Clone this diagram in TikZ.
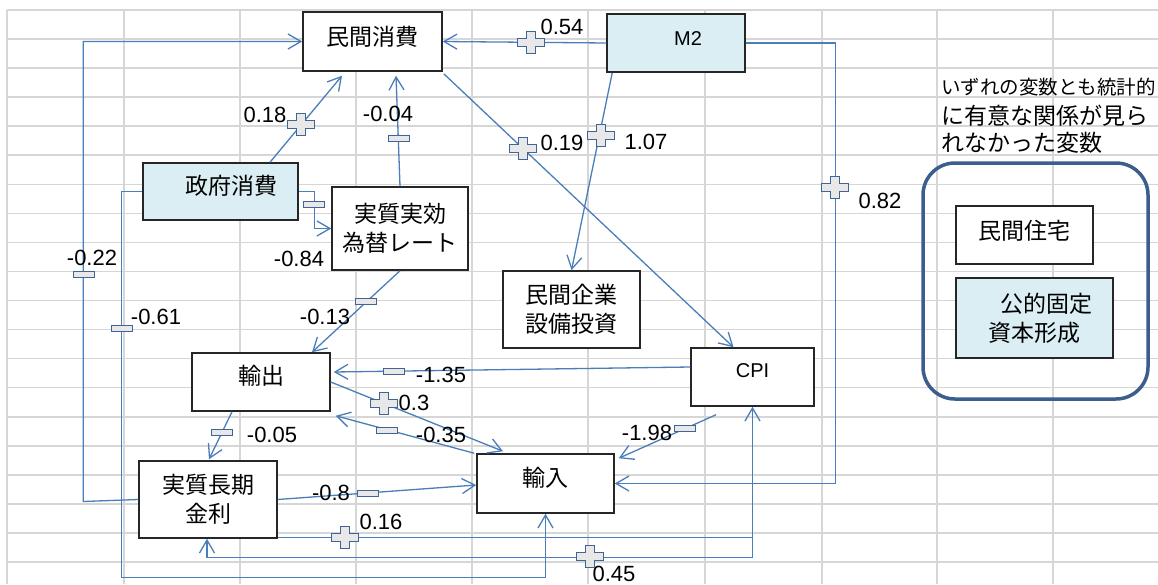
\documentclass[tikz,border=0pt]{standalone}
\usepackage{fontspec}
\setmainfont{Liberation Sans}
\newfontfamily\jp{Noto Sans CJK JP}
\usetikzlibrary{arrows.meta,calc}
\definecolor{linkc}{RGB}{74,126,187}
\definecolor{gridc}{RGB}{214,214,214}
\definecolor{lblue}{RGB}{218,238,243}
\definecolor{mkst}{RGB}{65,100,150}
\definecolor{mkfill}{RGB}{232,232,232}
\definecolor{rboxc}{RGB}{59,94,140}
\begin{document}
\begin{tikzpicture}[x=1pt,y=-1pt,
  jt/.style={font=\jp\fontsize{23}{29}\selectfont},
  lt/.style={font=\fontsize{20}{24}\selectfont},
  box/.style={draw=black!85, line width=1.5pt, fill=white, inner sep=0pt, align=center, jt},
  bbox/.style={box, fill=lblue},
  tl/.style={label={[jt,yshift=5pt]center:#1}},
  link/.style={draw=linkc, line width=1.3pt, -{Straight Barb[length=13pt,width=15pt]}},
  lab/.style={font=\fontsize{22}{26}\selectfont, inner sep=0pt},
  plusm/.pic={\draw[draw=mkst, fill=mkfill, line width=1pt]
     (-4.5,-11) -- (4.5,-11) -- (4.5,-4) -- (13.5,-4) -- (13.5,4) -- (4.5,4) -- (4.5,11)
     -- (-4.5,11) -- (-4.5,4) -- (-13.5,4) -- (-13.5,-4) -- (-4.5,-4) -- cycle;},
  minusm/.pic={\draw[draw=mkst, fill=mkfill, line width=1pt] (-10.5,-3) rectangle (10.5,3);}
]
\useasboundingbox (0,0) rectangle (1158,584);
\fill[white] (0,0) rectangle (1158,584);
% spreadsheet grid
\foreach \x in {7,124,240,356,472,588,705,822,937,1053}
  \draw[gridc, line width=1.6pt] (\x,10) -- (\x,584);
\foreach \i in {0,...,19}
  \draw[gridc, line width=1.6pt] (7,{10+29.05*\i}) -- (1158,{10+29.05*\i});

% boxes
\node[box, minimum width=139pt, minimum height=59pt, tl=民間消費] (mc) at (372.5,41.5) {};
\node[bbox, minimum width=138pt, minimum height=58pt,
      label={[lt,yshift=4pt,xshift=12pt]center:M2}] (m2) at (676,43) {};
\node[bbox, minimum width=155pt, minimum height=57pt,
      label={[jt,yshift=5.5pt,xshift=10.5pt]center:政府消費}] (gc) at (220.5,191.5) {};
\node[box, minimum width=136pt, minimum height=83pt] (reer) at (400,228.5) {実質実効\\為替レート};
\node[box, minimum width=137pt, minimum height=77pt] (inv) at (571.5,309.5) {民間企業\\設備投資};
\node[box, minimum width=123pt, minimum height=58pt,
      label={[lt,yshift=6pt]center:CPI}] (cpi) at (752.5,377) {};
\node[box, minimum width=138pt, minimum height=58pt,
      label={[jt,yshift=6pt]center:輸出}] (ex) at (261,382) {};
\node[box, minimum width=138pt, minimum height=77pt] (rate) at (208,499.5) {実質長期\\金利};
\node[box, minimum width=137pt, minimum height=59pt,
      label={[jt,yshift=6pt]center:輸入}] (im) at (545.5,483.5) {};

% group of unrelated variables
\node[draw=rboxc, line width=3.5pt, rounded corners=32pt, minimum width=225pt,
      minimum height=236pt] (grp) at (1035.5,281) {};
\node[box, minimum width=137pt, minimum height=58pt,
      label={[jt,yshift=4pt]center:民間住宅}] (house) at (1024.5,235) {};
\node[bbox, minimum width=157pt, minimum height=80pt] (pub) at (1034.5,318) {\hspace*{1em}公的固定\\資本形成};
\node[anchor=west, inner sep=0pt, font=\jp\fontsize{19.5}{24}\selectfont] (n1) at (941,87) {いずれの変数とも統計的};
\node[anchor=west, inner sep=0pt, font=\jp\fontsize{23}{28}\selectfont] (n2) at (941,116) {に有意な関係が見ら};
\node[anchor=west, inner sep=0pt, font=\jp\fontsize{23}{28}\selectfont] (n3) at (941,143) {れなかった変数};

% connectors
\draw[link] (m2.west) -- (mc.east);
\draw[link] ([xshift=6pt]m2.south west) -- (inv.north);
\draw[link] (m2.east) -- ++(90,0) |- (im.east);
\draw[link] ([xshift=1pt,yshift=-2pt]mc.south east) -- ([xshift=-19pt]cpi.north);
\draw[link] ([xshift=49.5pt]gc.north) -- ([xshift=-30.5pt,yshift=-4pt]mc.south);
\draw[link] (reer.north) -- ([xshift=23.5pt,yshift=-4pt]mc.south);
\draw[link] (gc.east) -- ++(16,0) |- (reer.west);
\draw[link] (gc.west) -- ++(-21,0) |- ($(im.south)+(0,64)$) -- (im.south);
\draw[link] (rate.west) -- ++(-55,2) |- (mc.west);
\draw[link] (reer.south) -- ([xshift=51pt]ex.north);
\draw[link] ([yshift=10pt]cpi.west) -- ([xshift=3pt,yshift=10pt]ex.east);
\draw[link] (ex.east) -- ([xshift=-42.5pt,yshift=2pt]im.north);
\draw[link] ([xshift=-2pt]im.north west) -- ([xshift=5pt,yshift=-4pt]ex.south east);
\draw[link] ([xshift=-29pt]ex.south) -- ([xshift=1pt,yshift=1pt]rate.north);
\draw[link] (rate.east) -- ([yshift=-1.5pt]im.west);
\draw[link] ([yshift=1pt]rate.south east) -| (cpi.south);
\draw[link] (cpi.south) |- ($(rate.south)+(-1,19)$) -- ([xshift=-1pt]rate.south);
\draw[link] ([xshift=-36.5pt,yshift=-8pt]cpi.south) -- ([xshift=4pt,yshift=-5pt]im.north east);

% coefficient labels
\node[lab] (l054) at (562,27) {0.54};
\node[lab] (l107) at (646,142) {1.07};
\node[lab] (l082) at (880,201) {0.82};
\node[lab] (l019) at (562,143) {0.19};
\node[lab] (l018) at (265,115) {0.18};
\node[lab] (l004) at (388,114) {-0.04};
\node[lab] (l084) at (299,259) {-0.84};
\node[lab] (l061) at (156,317) {-0.61};
\node[lab] (l022) at (92,258) {-0.22};
\node[lab] (l013) at (325,317) {-0.13};
\node[lab] (l135) at (441,375) {-1.35};
\node[lab] (l03) at (414,403) {0.3};
\node[lab] (l035) at (441,435) {-0.35};
\node[lab] (l005) at (272,435) {-0.05};
\node[lab] (l08) at (331,493) {-0.8};
\node[lab] (l016) at (381,522) {0.16};
\node[lab] (l045) at (614,574) {0.45};
\node[lab] (l198) at (647,433) {-1.98};

% sign markers
\pic at (531,42) {plusm};
\pic at (601,135) {plusm};
\pic at (835,187) {plusm};
\pic at (523,148) {plusm};
\pic at (301,124) {plusm};
\pic at (399,138) {minusm};
\pic at (314,204) {minusm};
\pic at (122,328) {minusm};
\pic at (84,274) {minusm};
\pic at (366,301) {minusm};
\pic at (394,371) {minusm};
\pic at (384,403) {plusm};
\pic at (387,430) {minusm};
\pic at (222,432) {minusm};
\pic at (368,493) {minusm};
\pic at (345,537) {plusm};
\pic at (590,556) {plusm};
\pic at (685,428) {minusm};
\end{tikzpicture}
\end{document}
